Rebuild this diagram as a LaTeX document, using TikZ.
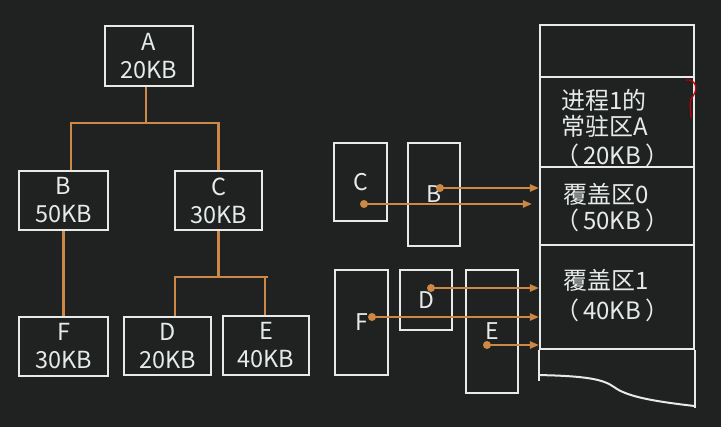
\documentclass[tikz,border=0pt]{standalone}
\usepackage{fontspec}
\setmainfont{Noto Sans CJK SC}
\usetikzlibrary{arrows.meta}
\definecolor{bg}{HTML}{1F2221}
\definecolor{chalk}{HTML}{E6EBE9}
\definecolor{org}{HTML}{CC8844}
\begin{document}
\begin{tikzpicture}[x=1pt,y=-1pt,
  tbox/.style={draw=chalk, line width=2.5pt, text=chalk, align=center, inner sep=0pt,
    font=\fontsize{23.5}{28}\selectfont},
  mbox/.style={draw=chalk, line width=2.3pt, text=chalk, inner sep=0pt,
    font=\fontsize{23}{26}\selectfont},
  mem/.style={draw=chalk, line width=2.1pt, inner sep=0pt, minimum width=154pt},
  mtext/.style={text=chalk, anchor=west, inner sep=0pt, font=\fontsize{24}{26}\selectfont},
  conn/.style={draw=org, line width=2.2pt},
  arr/.style={draw=org, line width=2.2pt, -{Triangle[length=9pt,width=7pt]}},
  dotn/.style={circle, fill=org, minimum size=8pt, inner sep=0pt}]
\fill[bg] (0,0) rectangle (721,427);
\useasboundingbox (0,0) rectangle (721,427);

% tree
\node[tbox, minimum width=88pt, minimum height=60pt] (A) at (149,56) {A\\20KB};
\node[tbox, minimum width=89pt, minimum height=59pt] (B) at (63.5,200.5) {B\\50KB};
\node[tbox, minimum width=87pt, minimum height=59pt] (C) at (218.5,200.5) {C\\30KB};
\node[tbox, minimum width=89pt, minimum height=59pt] (F) at (63.5,346.5) {F\\30KB};
\node[tbox, minimum width=87pt, minimum height=58pt] (D) at (167.5,346) {D\\20KB};
\node[tbox, minimum width=86pt, minimum height=59pt] (E) at (266,345.5) {E\\40KB};

\coordinate (j1) at (146,123);
\coordinate (j2) at (218,277);
\draw[conn] ([xshift=-3pt]A.south) -- ([xshift=-3pt]A.south |- j1);
\draw[conn] ([xshift=7.5pt]B.north) -- ([xshift=7.5pt]B.north |- j1) -- (C.north |- j1) -- (C.north);
\draw[conn] (B.south) -- (F.north);
\draw[conn] (C.south) -- (C.south |- j2);
\draw[conn] ([xshift=7.5pt]D.north) -- ([xshift=7.5pt]D.north |- j2) -- ([xshift=2pt]E.north |- j2);
\draw[conn] ([xshift=-1pt]E.north) -- ([xshift=-1pt]E.north |- j2);

% module boxes
\node[mbox, minimum width=53pt, minimum height=78pt] (mC) at (360.5,182) {C};
\node[mbox, minimum width=52pt, minimum height=103pt] (mB) at (434,194.5) {B};
\node[mbox, minimum width=53pt, minimum height=105pt] (mF) at (361.5,322.5) {F};
\node[mbox, minimum width=52pt, minimum height=60pt] (mD) at (426,300) {D};
\node[mbox, minimum width=52pt, minimum height=123pt] (mE) at (492,331.5) {E};

% memory column
\node[mem, minimum height=52pt] (m0) at (617,51) {};
\node[mem, minimum height=90pt] (mA) at (617,122) {};
\node[mem, minimum height=78pt] (m1) at (617,206) {};
\node[mem, minimum height=104pt] (m2) at (617,297) {};
\draw[chalk, line width=2pt] (m2.south west) -- ++(0,31);
\draw[chalk, line width=2pt] (m2.south east) -- ++(0,58);
\draw[chalk, line width=2pt] ([yshift=-25pt]m2.south west) .. controls (585,376) and (603,379) .. (614,387)
  .. controls (626,396) and (650,401) .. ([yshift=-56pt]m2.south east);

\node[mtext] (tA1) at (561,100) {进程1的};
\node[mtext] (tA2) at (561,126) {常驻区A};
\node[mtext] (tA3) at (555,155) {（\,20KB\,）};
\node[mtext] (t01) at (563,194) {覆盖区0};
\node[mtext] (t02) at (555,220) {（\,50KB\,）};
\node[mtext] (t11) at (563,280) {覆盖区1};
\node[mtext] (t12) at (555,310) {（\,40KB\,）};

% arrows
\node[dotn] (dB) at (440,188) {};
\node[dotn] (dC) at (364,204) {};
\node[dotn] (dD) at (431,288) {};
\node[dotn] (dF) at (372,317) {};
\node[dotn] (dE) at (487,345) {};
\draw[arr] (dB.center) -- (dB.center -| m1.west);
\draw[arr] (dC.center) -- ([xshift=-7pt]dC.center -| m1.west);
\draw[arr] (dD.center) -- (dD.center -| m2.west);
\draw[arr] (dF.center) -- (dF.center -| m2.west);
\draw[arr] (dE.center) -- (dE.center -| m2.west);

% red annotation
\draw[red!75!black, line width=1.3pt] (686,80) .. controls (695,79) and (699,88) .. (693,96)
  .. controls (688,102) and (691,110) .. (691,118);
\end{tikzpicture}
\end{document}
